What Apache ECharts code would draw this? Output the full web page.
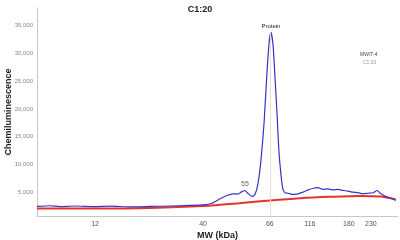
<!DOCTYPE html>
<html><head><meta charset="utf-8">
<script src="https://cdn.jsdelivr.net/npm/echarts@6/dist/echarts.min.js"></script>
<style>html,body{margin:0;padding:0;background:#fff}#c{width:400px;height:240px}</style>
</head><body><div id="c"></div>
<script>
// migration position (0-100 along capillary) and chemiluminescence
const bluePos = [0,3.6,6.4,10.5,16.1,20.2,25.8,31.3,36.8,42.4,46.0,48.5,50.7,52.6,54.3,55.7,56.5,57.6,58.4,59.6,60.4,61.2,62.0,62.9,63.7,64.3,64.8,65.4,65.9,66.5,67.0,67.6,68.1,68.7,69.6,70.6,72.3,73.7,75.1,76.5,77.8,79.2,80.6,82.0,83.4,84.8,86.1,87.5,88.9,90.3,91.7,93.1,94.2,95.3,96.7,98.1,99.4];
const blueVal = [2450,2550,2400,2500,2400,2480,2350,2420,2500,2600,2700,3000,3800,4400,4700,4650,5000,5300,4800,4200,4600,6500,10500,17500,26500,32000,33800,31500,26000,19000,12500,8000,5600,4900,4800,4600,4700,5000,5400,5700,5800,5500,5600,5400,5500,5300,5200,5000,4900,4700,4800,4900,5300,4700,4200,3900,3500];
const redPos = [0,17.5,31.3,46,56,64.5,72.8,81.2,89.5,95,99.4];
const redVal = [2050,2050,2150,2500,3000,3500,3900,4150,4300,4200,3700];
const tickPos = [16.1,46.0,64.5,75.6,86.4,92.5];
const tickLabels = ['12','40','66','116','180','230'];
const yTicks = [5000,10000,15000,20000,25000,30000,35000];
const peaks = [{name:'Protein', pos:64.8, val:33800}, {name:'55', pos:57.6, val:5300}];

const font = 'Liberation Sans, Arial, sans-serif';
const chart = echarts.init(document.getElementById('c'), null, {renderer:'canvas'});
chart.setOption({
  animation:false,
  backgroundColor:'#fff',
  title:{text:'C1:20', left:'center', top:0, textStyle:{fontSize:9, fontWeight:'bold', color:'#222', fontFamily:font}},
  grid:{left:37, right:2, top:8, bottom:24, containLabel:false, outerBoundsMode:'none'},
  xAxis:{type:'value', min:0, max:100,
    name:'MW (kDa)', nameLocation:'middle', nameGap:15, nameMoveOverlap:false,
    nameTextStyle:{fontSize:9, fontWeight:'bold', color:'#222', fontFamily:font},
    axisLine:{lineStyle:{color:'#c8c8c8', width:1}},
    axisTick:{show:false},
    splitLine:{show:false},
    axisLabel:{customValues:tickPos, formatter:v=>tickLabels[tickPos.indexOf(v)] ?? '', fontSize:7, color:'#555', margin:5, fontFamily:font}
  },
  yAxis:{type:'value', min:700, max:38200,
    name:'Chemiluminescence', nameLocation:'middle', nameGap:24, nameMoveOverlap:false,
    nameTextStyle:{fontSize:9, fontWeight:'bold', color:'#222', fontFamily:font},
    axisLine:{show:true, lineStyle:{color:'#c8c8c8', width:1}},
    axisTick:{show:false},
    splitLine:{show:false},
    axisLabel:{customValues:yTicks, formatter:v=>v.toLocaleString('en-US'), fontSize:6, color:'#888', margin:4, fontFamily:font}
  },
  graphic:[
    {type:'text', left:360, top:52, style:{text:'MW/T-4', fontSize:5, fill:'#444', fontFamily:font}},
    {type:'text', left:363, top:60, style:{text:'C1:20', fontSize:5, fill:'#999', fontFamily:font}}
  ],
  series:[
    {type:'line', data:redPos.map((p,i)=>[p,redVal[i]]), showSymbol:false, smooth:0.3,
      lineStyle:{color:'#e8322c', width:2}, z:2},
    {type:'line', data:bluePos.map((p,i)=>[p,blueVal[i]]), showSymbol:false, smooth:0.2,
      lineStyle:{color:'#3434c8', width:1.2}, z:3,
      markLine:{silent:true, symbol:'none', label:{show:false},
        lineStyle:{color:'#e6dfd2', width:1, type:'solid'},
        data:[[{coord:[peaks[0].pos-0.2, 700]},{coord:[peaks[0].pos-0.2, peaks[0].val]}]]},
      markPoint:{symbol:'circle', symbolSize:0,
        data:peaks.map(p=>({coord:[p.pos,p.val], name:p.name,
          label:{show:true, formatter:p.name, position:'top', distance:3, fontSize:p.name==='55'?7:6, color:p.name==='55'?'#666':'#222', fontFamily:font}}))}
    }
  ]
});
</script></body></html>
